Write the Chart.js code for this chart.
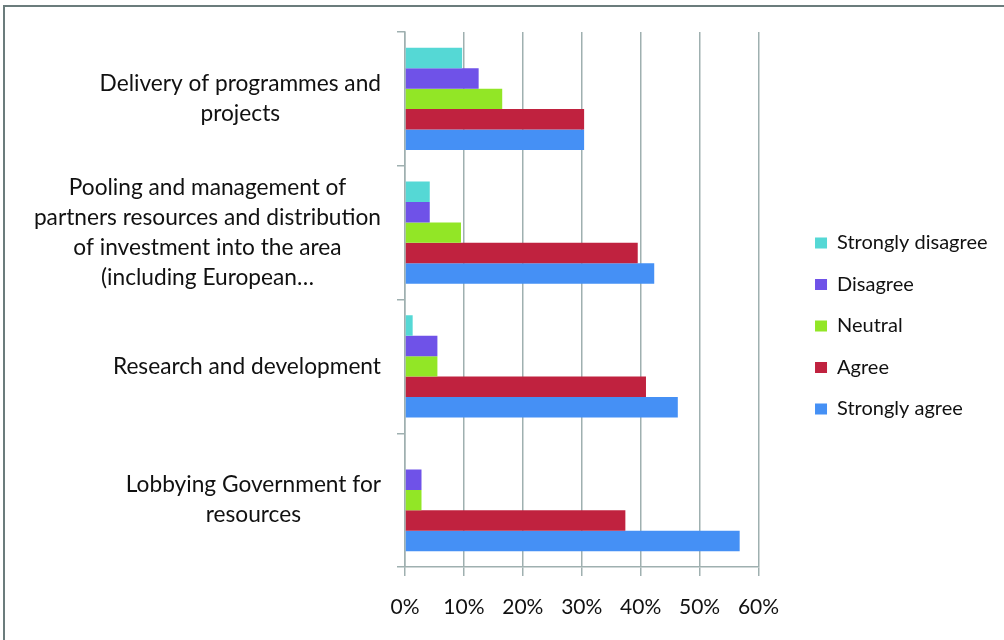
<!DOCTYPE html>
<html>
<head>
<meta charset="utf-8">
<script src="https://cdn.jsdelivr.net/npm/chart.js@4.4.1/dist/chart.umd.min.js"></script>
<style>
  html, body { margin: 0; padding: 0; background: #fff; }
  #wrap { position: relative; width: 1004px; height: 640px; }
</style>
</head>
<body>
<div id="wrap"><canvas id="chart"></canvas></div>
<script>
// categories, one entry per line of the label
const categories = [
  ['Delivery of programmes and', 'projects'],
  ['Pooling and management of', 'partners resources and distribution', 'of investment into the area', '(including European\u2026'],
  ['Research and development'],
  ['Lobbying Government for', 'resources']
];
const seriesNames = ['Strongly disagree', 'Disagree', 'Neutral', 'Agree', 'Strongly agree'];
const stronglyDisagree = [9.7, 4.2, 1.3, 0];
const disagree = [12.5, 4.2, 5.5, 2.8];
const neutral = [16.5, 9.5, 5.5, 2.8];
const agree = [30.4, 39.5, 40.9, 37.4];
const stronglyAgree = [30.4, 42.3, 46.3, 56.8];
const xTicks = [0, 10, 20, 30, 40, 50, 60];
const seriesColors = ['#55d8d5', '#6f52e8', '#92e626', '#c0223f', '#4590f5'];

const FONT = 'Lato, "Liberation Sans", sans-serif';
const AXIS_GREY = '#9fb0b0';

// frame around the whole chart (top and left edges only are visible)
const chartFrame = {
  id: 'chartFrame',
  beforeDraw(chart) {
    const ctx = chart.ctx;
    ctx.save();
    ctx.strokeStyle = '#6b7c7c';
    ctx.lineWidth = 2;
    ctx.beginPath();
    ctx.moveTo(4, chart.height);
    ctx.lineTo(4, 6);
    ctx.lineTo(chart.width, 6);
    ctx.stroke();
    ctx.restore();
  }
};

// category labels: block right-aligned to the axis, lines centred inside the block
const categoryLabels = {
  id: 'categoryLabels',
  afterDraw(chart) {
    const yScale = chart.scales.y;
    const ctx = chart.ctx;
    ctx.save();
    ctx.font = '22.7px ' + FONT;
    ctx.fillStyle = '#111';
    ctx.textAlign = 'center';
    ctx.textBaseline = 'middle';
    categories.forEach((lines, i) => {
      const widest = Math.max(...lines.map(l => ctx.measureText(l).width));
      const cx = yScale.right - 24 - widest / 2;
      const cy = yScale.getPixelForValue(i);
      lines.forEach((line, j) => {
        ctx.fillText(line, cx, cy + (j - (lines.length - 1) / 2) * 30);
      });
    });
    ctx.restore();
  }
};

const values = [stronglyDisagree, disagree, neutral, agree, stronglyAgree];

new Chart(document.getElementById('chart'), {
  type: 'bar',
  data: {
    labels: categories.map(c => c.join(' ')),
    datasets: seriesNames.map((name, i) => ({
      label: name,
      data: values[i],
      backgroundColor: seriesColors[i],
      borderWidth: 0,
      categoryPercentage: 0.765,
      barPercentage: 1.0
    }))
  },
  options: {
    indexAxis: 'y',
    responsive: true,
    maintainAspectRatio: false,
    animation: false,
    layout: { padding: { top: 32, right: 6.5, bottom: 20, left: 0 } },
    scales: {
      x: {
        min: 0,
        max: 60,
        afterBuildTicks: s => { s.ticks = xTicks.map(v => ({ value: v })); },
        afterFit: s => { s.height = 53; },
        grid: { color: AXIS_GREY, lineWidth: 1.5, tickLength: 9 },
        border: { color: AXIS_GREY, width: 1.5 },
        ticks: {
          callback: v => v + '%',
          color: '#111',
          padding: 19,
          font: { family: FONT, size: 21 }
        }
      },
      y: {
        afterFit: s => { s.width = 405; },
        grid: { drawOnChartArea: false, offset: true, color: AXIS_GREY, lineWidth: 1.5, tickLength: 8 },
        border: { color: AXIS_GREY, width: 1.5 },
        ticks: { display: false }
      },
      // empty strip between the plot and the legend
      gap: {
        type: 'linear',
        position: 'right',
        afterFit: s => { s.width = 35; },
        grid: { display: false },
        border: { display: false },
        ticks: { display: false }
      }
    },
    plugins: {
      legend: {
        position: 'right',
        align: 'center',
        maxWidth: 400,
        labels: {
          boxWidth: 12,
          boxHeight: 11,
          padding: 21.5,
          color: '#111',
          font: { family: FONT, size: 20 }
        }
      },
      tooltip: { enabled: false }
    }
  },
  plugins: [chartFrame, categoryLabels]
});
</script>
</body>
</html>
